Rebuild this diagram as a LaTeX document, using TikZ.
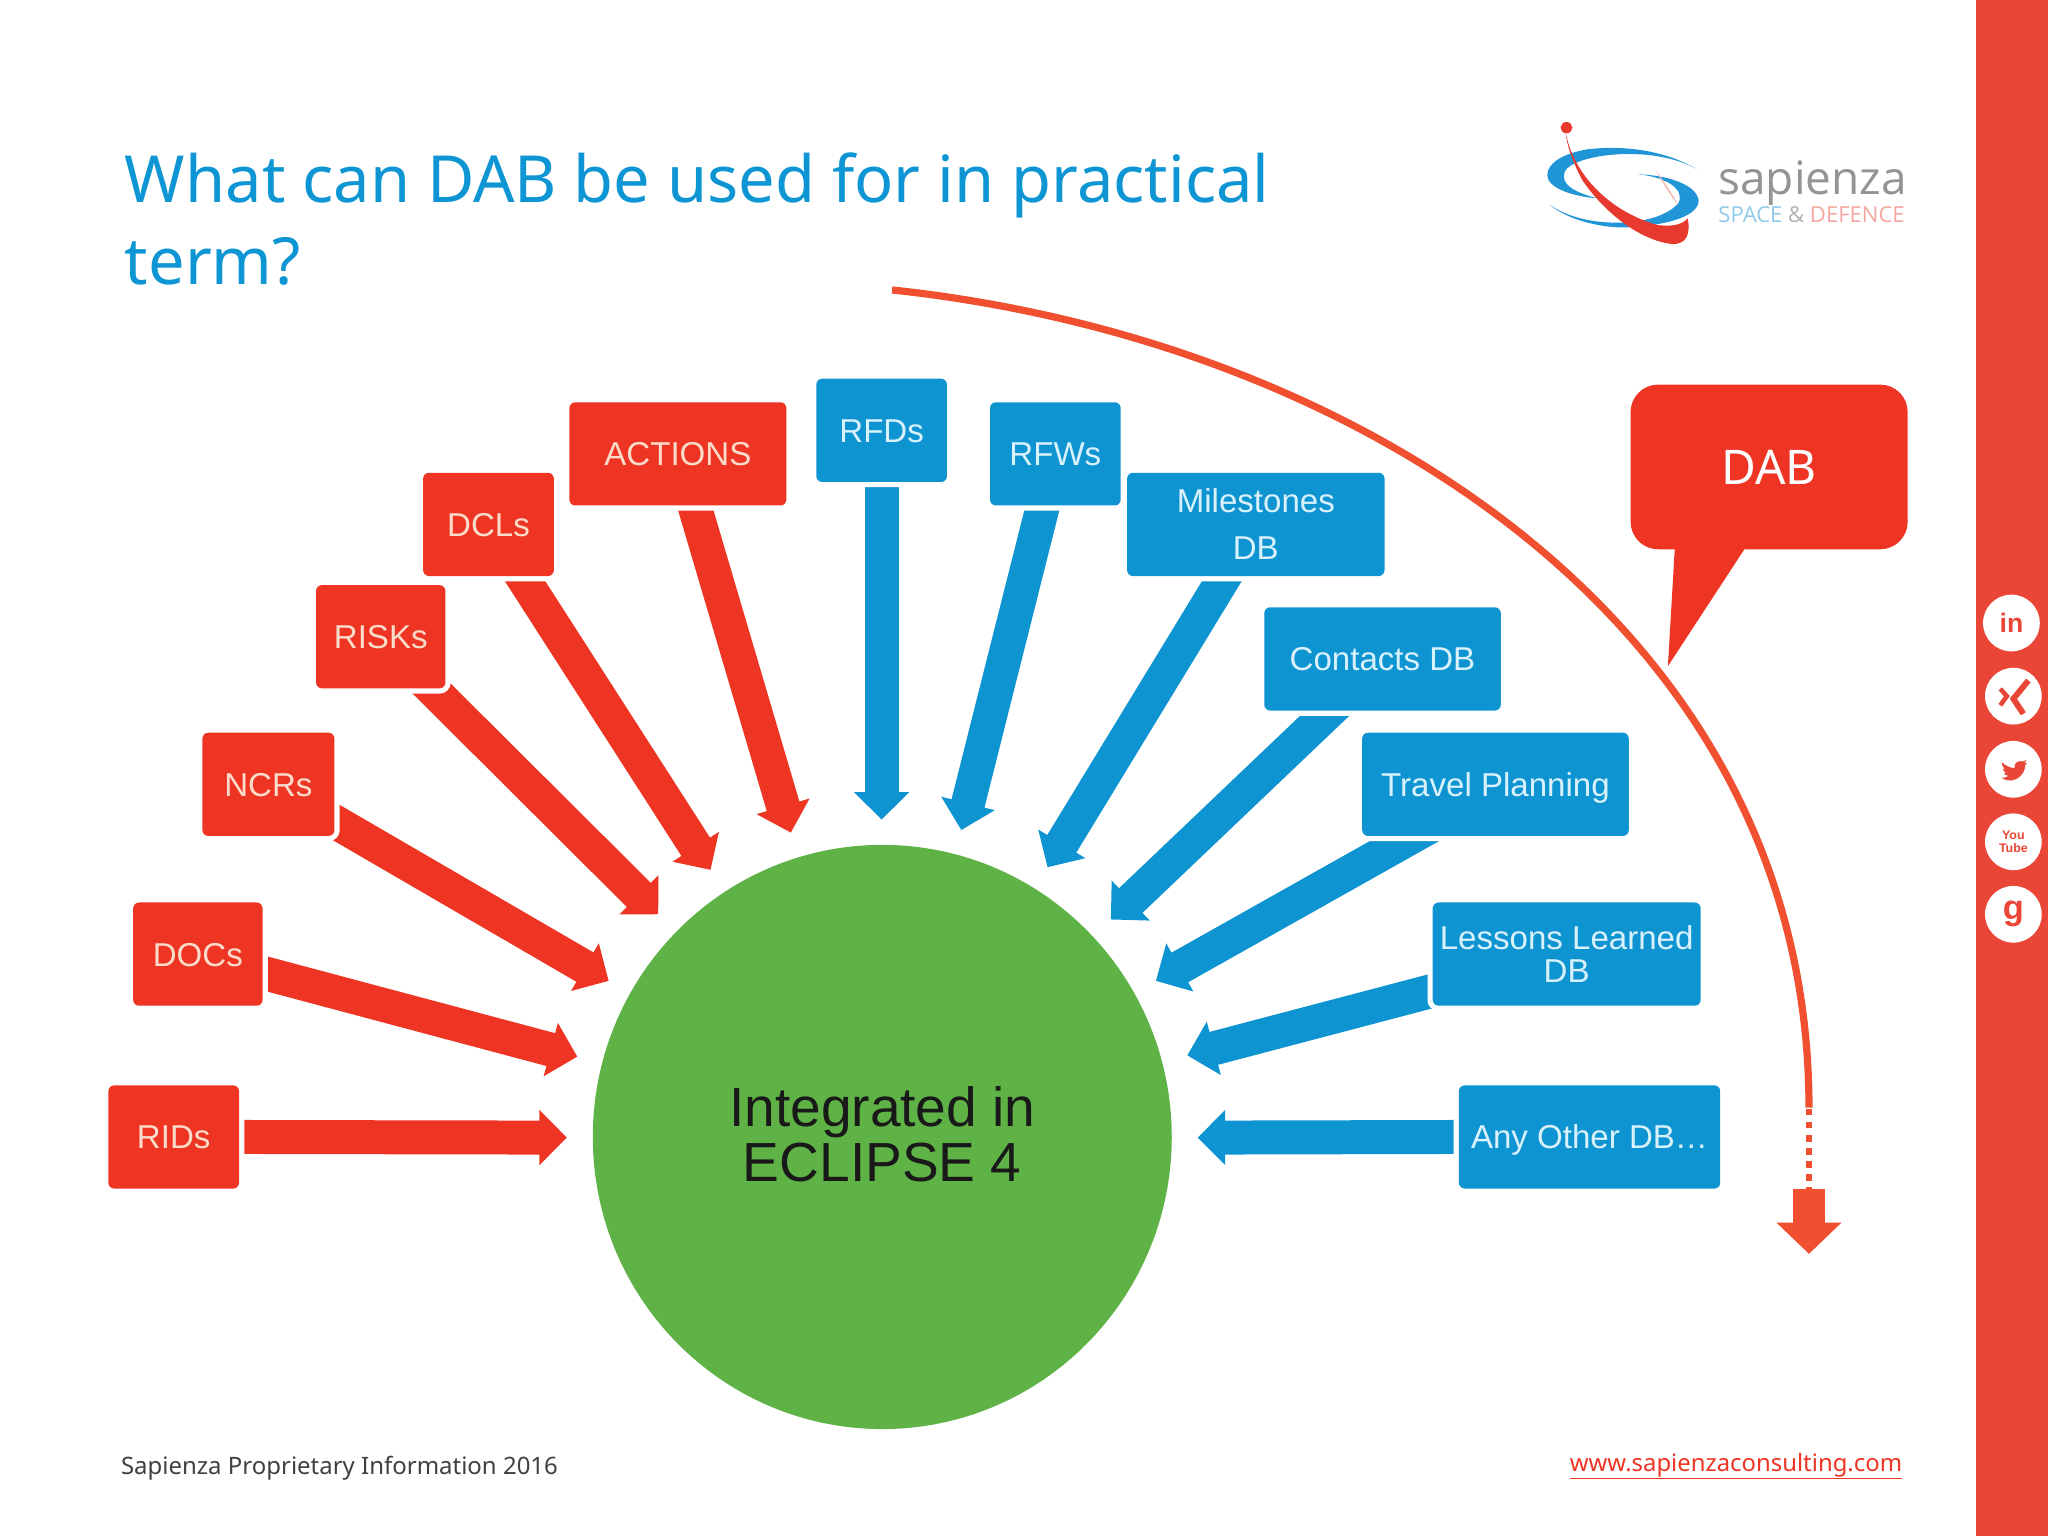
\documentclass[tikz,border=0pt]{standalone}
\usepackage{fontspec}
\setmainfont{Liberation Sans}
\newfontfamily\titlefont{Noto Sans}
\newfontfamily\logofont{Open Sans}
\usetikzlibrary{arrows.meta,calc,shapes.geometric}
\pgfdeclarelayer{under}
\pgfsetlayers{under,main}
\definecolor{boxred}{HTML}{EE3524}
\definecolor{boxblue}{HTML}{0F94D2}
\definecolor{ballgreen}{HTML}{5FB246}
\definecolor{bandred}{HTML}{EA4637}
\definecolor{arcred}{HTML}{F0502F}
\definecolor{titleblue}{HTML}{0E96D4}
\definecolor{logoblue}{HTML}{2196D6}
\definecolor{logored}{HTML}{E8392F}
\definecolor{redtext}{HTML}{FBDCCB}
\definecolor{bluetext}{HTML}{D8F1FB}
\tikzset{
  x=0.01cm,y=-0.01cm,
  basebox/.style={rounded corners=0.045cm,inner sep=0pt,minimum height=0.79cm,align=center,font=\fontsize{7.2}{8.6}\selectfont,preaction={draw=white,line width=0.08cm}},
  redbox/.style={basebox,fill=boxred,text=redtext},
  bluebox/.style={basebox,fill=boxblue,text=bluetext},
  oneline/.style={text height=5.2pt,text depth=0pt},
  blockbase/.style={line width=0.26cm,shorten <=-0.3cm},
  redarrow/.style={blockbase,draw=boxred,-{Triangle[length=0.21cm,width=0.41cm]}},
  bluearrow/.style={blockbase,draw=boxblue,-{Triangle[length=0.21cm,width=0.41cm]}},
  social/.style={circle,fill=white,minimum size=0.434cm,inner sep=0pt,text=bandred,font=\bfseries\fontsize{5.8}{5.8}\selectfont},
}
\begin{document}
\begin{tikzpicture}
\useasboundingbox (0,0) rectangle (1568,1176);
\begin{pgfonlayer}{under}
\fill[white] (0,0) rectangle (1568,1176);
\fill[bandred] (1513,0) rectangle (1568,1176);
\end{pgfonlayer}
\node[anchor=base west,inner sep=0pt,align=left,text=titleblue,font=\titlefont\fontsize{14.15}{17.9}\selectfont] (title) at (95,218) {What can DAB be used for in practical\\term?};
% centre
\node[ellipse,fill=ballgreen,minimum width=4.43cm,minimum height=4.47cm,inner sep=0pt] (ball) at (675.5,870.5) {};
\node[inner sep=0pt,align=center,text=black!90,font=\fontsize{12}{12}\selectfont] (balltext) at ($(ball.center)+(0,-2)$) {Integrated in\\ECLIPSE 4};
% boxes
\node[redbox,oneline,minimum width=1.00cm] (rids) at (133,870.5) {RIDs};
\node[redbox,oneline,minimum width=0.99cm] (docs) at (151.5,730.5) {DOCs};
\node[redbox,oneline,minimum width=1.01cm] (ncrs) at (205.5,600.5) {NCRs};
\node[redbox,oneline,minimum width=0.99cm] (risks) at (291.5,487.5) {RISKs};
\node[redbox,oneline,minimum width=1.00cm] (dcls) at (374,401.5) {DCLs};
\node[redbox,oneline,minimum width=1.66cm] (actions) at (519,347.5) {ACTIONS};
\node[bluebox,oneline,minimum width=1.00cm] (rfds) at (675,329.5) {RFDs};
\node[bluebox,oneline,minimum width=1.00cm] (rfws) at (808,347.5) {RFWs};
\node[bluebox,minimum width=1.97cm,font=\fontsize{7.2}{10.2}\selectfont] (miles) at (961.5,401.5) {Milestones\\DB};
\node[bluebox,oneline,minimum width=1.81cm] (contacts) at (1058.5,504.5) {Contacts DB};
\node[bluebox,oneline,minimum width=2.04cm] (travel) at (1145,600.5) {Travel Planning};
\node[bluebox,minimum width=2.05cm,font=\fontsize{7.2}{7.1}\selectfont] (lessons) at (1199.5,730.5) {Lessons Learned\\DB};
\node[bluebox,oneline,minimum width=2.00cm] (anyother) at (1217,870.5) {Any Other DB\dots};
% arrow tips
\coordinate (tipa) at (434,871);
\coordinate (tipb) at (442,809);
\coordinate (tipc) at (466,751);
\coordinate (tipd) at (504,700);
\coordinate (tipe) at (544,666);
\coordinate (tipf) at (605.5,637.5);
\coordinate (tipg) at (675,627.5);
\coordinate (tiph) at (736,635.5);
\coordinate (tipi) at (802,664);
\coordinate (tipj) at (850.5,704);
\coordinate (tipk) at (885,751);
\coordinate (tipl) at (909,808);
\coordinate (tipm) at (917,871);
\begin{pgfonlayer}{under}
\draw[redarrow] ($(rids.east)+(4,0)$) -- (tipa);
\draw[redarrow] ($(docs.east)+(4,15.5)$) -- (tipb);
\draw[redarrow] ($(ncrs.east)+(2,30)$) -- (tipc);
\draw[redarrow] ($(risks.south)+(40.5,1)$) -- (tipd);
\draw[redarrow] ($(dcls.south)+(28.5,4)$) -- (tipe);
\draw[redarrow] ($(actions.south)+(14,4)$) -- (tipf);
\draw[bluearrow] ($(rfds.south)+(0,4)$) -- (tipg);
\draw[bluearrow] ($(rfws.south)+(-10.6,4)$) -- (tiph);
\draw[bluearrow] ($(miles.south)+(-26.5,4)$) -- (tipi);
\draw[bluearrow] ($(contacts.south)+(-45,4)$) -- (tipj);
\draw[bluearrow] ($(travel.south)+(-72,4.5)$) -- (tipk);
\draw[bluearrow] ($(lessons.west)+(-3,29)$) -- (tipl);
\draw[bluearrow] ($(anyother.west)+(-3.5,0)$) -- (tipm);
\end{pgfonlayer}
% long arc
\coordinate (arcstart) at (683,222);
\coordinate (arcend) at (1385,848);
\coordinate (blockstart) at (1385,910.5);
\coordinate (blockend) at (1385,960);
\draw[arcred,line width=0.055cm] (arcstart) .. controls (1040,260) and (1385,480) .. (arcend);
\draw[arcred,line width=0.05cm,dash pattern=on 0.05cm off 0.05cm] ([yshift=-0.01cm]arcend) -- (blockstart);
\draw[arcred,line width=0.24cm,-{Triangle[length=0.24cm,width=0.485cm]}] (blockstart) -- (blockend);
% callout
\coordinate (calltip) at (1277,510);
\node[fill=boxred,rounded corners=0.21cm,minimum width=2.12cm,minimum height=1.26cm,inner sep=0pt,text=white,text height=7.5pt,text depth=0pt,font=\titlefont\fontsize{10.4}{12}\selectfont] (dab) at (1354.5,357.5) {DAB};
\begin{pgfonlayer}{under}
\fill[boxred] ($(dab.south west)+(34.5,-1)$) -- (calltip) -- ($(dab.south west)+(88,-1)$) -- cycle;
\end{pgfonlayer}
% social icons
\node[social] (in) at (1540,477) {in};
\node[social] (xing) at (1541.5,533) {};
\node[social] (tw) at (1541.5,589) {};
\node[social,font=\bfseries\fontsize{2.7}{3}\selectfont,align=center] (yt) at (1541.5,644.5) {You\\Tube};
\node[social,font=\bfseries\fontsize{7.5}{7.5}\selectfont] (gp) at (1541.5,700) {g};
\begin{scope}[shift={(xing.center)}]
\draw[bandred,line width=0.035cm] (-10,-5.6) -- (-5,0) -- (-10,7);
\draw[bandred,line width=0.045cm] (11.5,-12) -- (0,2) -- (7.6,13.5);
\end{scope}
\begin{scope}[shift={(tw.center)}]
\fill[bandred] (-9,-5.5) .. controls (-5,-2) and (-2,-1) .. (1,-1) .. controls (0,-5) and (4,-7) .. (7,-6) -- (10,-7) -- (8.5,-4.5) -- (10.5,-5) -- (9,-3) .. controls (9,4) and (2,9.5) .. (-4,8.5) .. controls (-7,8) and (-8,7) .. (-9,6.5) .. controls (-6,6.5) and (-4,5.5) .. (-4,5) .. controls (-6,5) and (-7,3.5) .. (-7,3) -- (-5.5,3) .. controls (-7.5,2) and (-8,0) .. (-8,-0.5) -- (-6,0) .. controls (-8.5,-2) and (-9,-4) .. (-9,-5.5) -- cycle;
\end{scope}
% logo
\begin{scope}[shift={(1148.5,68.9)},xscale=0.2676,yscale=0.2552]
\fill[logoblue] (562,237) .. controls (470,180) and (350,165) .. (250,178) .. controls (180,190) and (135,220) .. (135,255) .. controls (135,295) and (210,320) .. (280,325) .. controls (220,310) and (170,285) .. (185,245) .. controls (205,195) and (430,160) .. (562,237) -- cycle;
\fill[logoblue] (140,343) .. controls (200,395) and (300,415) .. (365,412) .. controls (490,405) and (570,375) .. (568,330) .. controls (560,280) and (470,255) .. (395,253) .. controls (480,262) and (530,300) .. (510,340) .. controls (480,375) and (420,395) .. (350,398) .. controls (260,400) and (190,380) .. (140,343) -- cycle;
\fill[logored!35] (445,240) .. controls (465,280) and (490,320) .. (510,345) .. controls (490,305) and (465,270) .. (445,240) -- cycle;
\fill[logored] (188,130) .. controls (215,270) and (330,370) .. (450,405) .. controls (500,412) and (525,400) .. (537,385) .. controls (545,430) and (535,465) .. (490,462) .. controls (400,450) and (300,370) .. (235,270) .. controls (205,210) and (190,160) .. (188,130) -- cycle;
\fill[logored] (190,113) circle[radius=17];
\end{scope}
\node[anchor=base west,inner sep=0pt,text=black!42,font=\logofont\fontsize{10}{12}\selectfont] (sap) at (1315,149) {sapienza};
\node[anchor=base west,inner sep=0pt,font=\logofont\fontsize{4.8}{6}\selectfont] (space) at (1315,170) {\textcolor{logoblue!50}{SPACE} \textcolor{black!30}{\&} \textcolor{logored!45}{DEFENCE}};
% footer
\node[anchor=base west,inner sep=0pt,text=black!75,font=\titlefont\fontsize{5.22}{7}\selectfont] (foot) at (92,1129) {Sapienza Proprietary Information 2016};
\node[anchor=base east,inner sep=0pt,text=boxred,font=\titlefont\fontsize{5.2}{7}\selectfont] (link) at (1457,1127) {\underline{\smash{www.sapienzaconsulting.com}}};
\end{tikzpicture}
\end{document}
